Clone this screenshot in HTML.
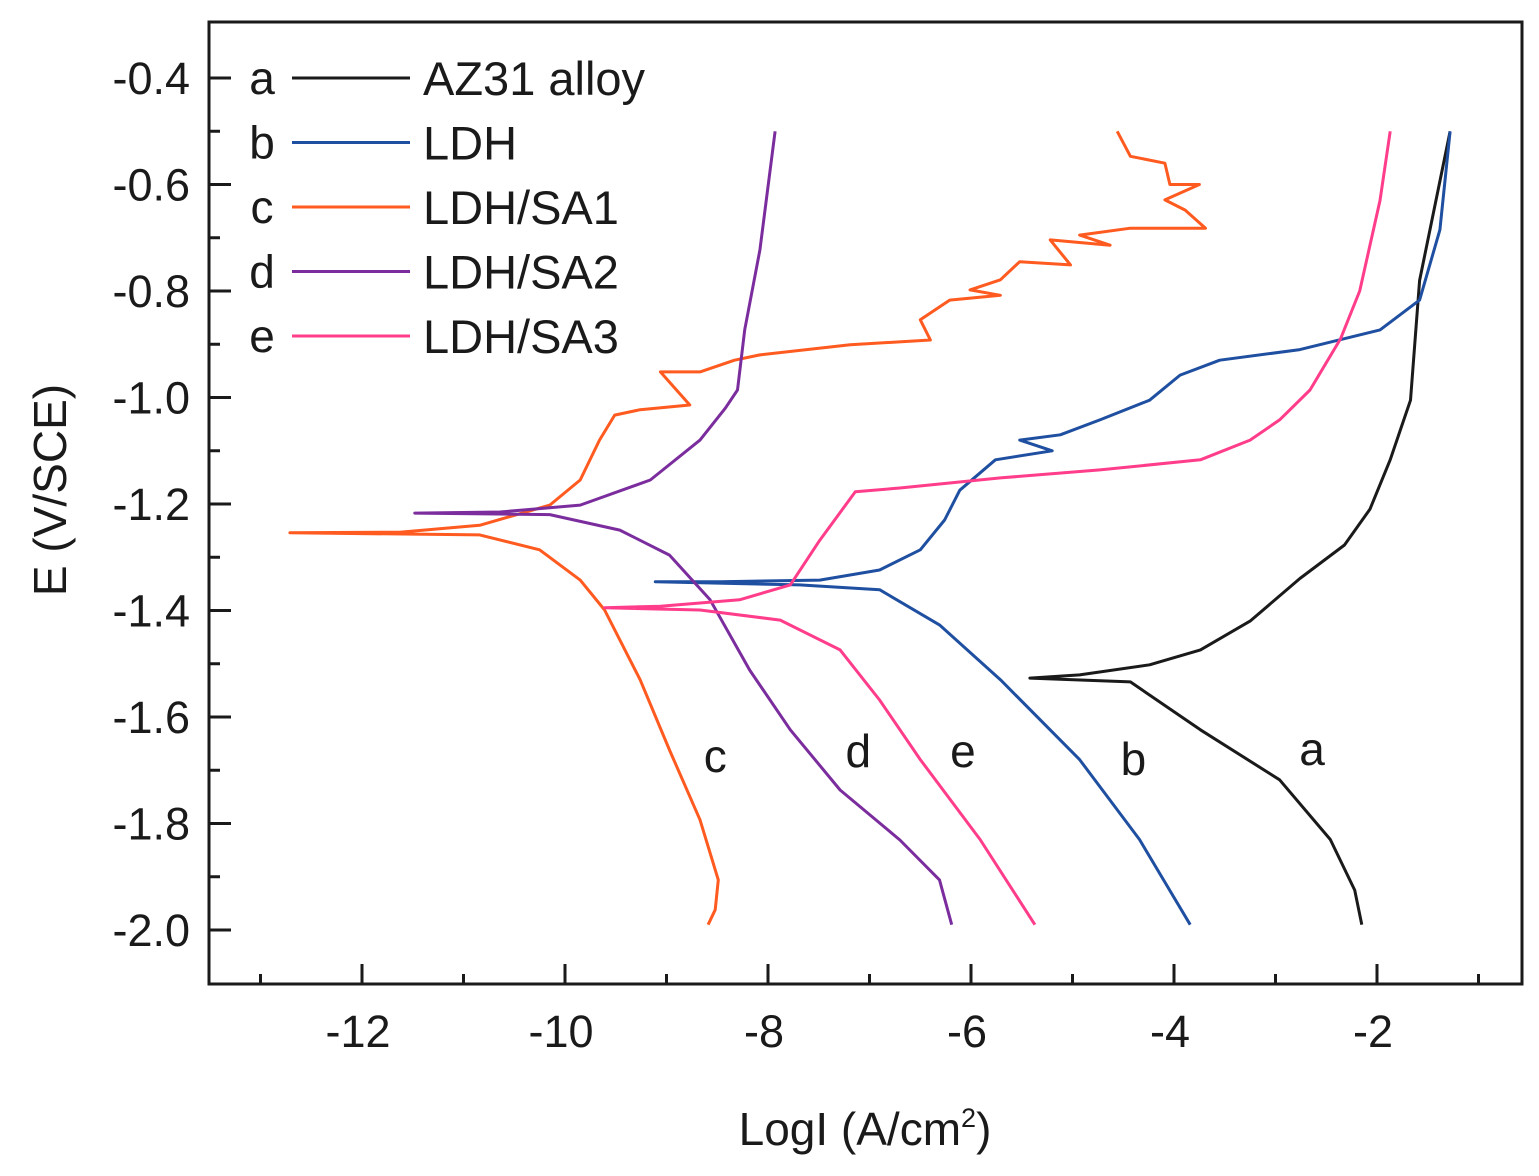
<!DOCTYPE html>
<html><head><meta charset="utf-8">
<style>
html,body{margin:0;padding:0;background:#fff;}
svg{display:block;}
text{font-family:"Liberation Sans",Arial,sans-serif;fill:#1a1a1a;}
</style></head>
<body>
<svg id="chart" width="1539" height="1176" viewBox="0 0 1539 1176">
<rect x="0" y="0" width="1539" height="1176" fill="#fff"/>
<g id="axes"></g>
<g id="curves"></g>
<g id="legend"></g>
<text x="865" y="1145" font-size="46" text-anchor="middle">LogI (A/cm<tspan dy="-18" font-size="27">2</tspan><tspan dy="18">)</tspan></text>
<text transform="translate(66,490) rotate(-90)" font-size="46" text-anchor="middle">E (V/SCE)</text>
</svg>
<script>
const xTicks=[-12,-10,-8,-6,-4,-2];
const xMinor=[-13,-11,-9,-7,-5,-3,-1];
const yTicks=[-0.4,-0.6,-0.8,-1.0,-1.2,-1.4,-1.6,-1.8,-2.0];
const yTickLabels=["-0.4","-0.6","-0.8","-1.0","-1.2","-1.4","-1.6","-1.8","-2.0"];
const yMinor=[-0.5,-0.7,-0.9,-1.1,-1.3,-1.5,-1.7,-1.9];
const seriesNames=["AZ31 alloy","LDH","LDH/SA1","LDH/SA2","LDH/SA3"];
const seriesLetters=["a","b","c","d","e"];
const seriesColors=["#1a1a1a","#1f4fa0","#ff5a1f","#7b2d9e","#ff3d8a"];
const curveA=[[-1.28,-0.5],[-1.58,-0.78],[-1.67,-1.005],[-1.87,-1.117],[-2.07,-1.21],[-2.32,-1.277],[-2.76,-1.34],[-3.25,-1.42],[-3.74,-1.474],[-4.24,-1.502],[-4.93,-1.521],[-5.42,-1.527],[-4.43,-1.534],[-3.74,-1.624],[-2.96,-1.718],[-2.46,-1.83],[-2.22,-1.925],[-2.15,-1.99]];
const curveB=[[-1.28,-0.5],[-1.38,-0.685],[-1.58,-0.817],[-1.97,-0.873],[-2.76,-0.91],[-3.55,-0.93],[-3.94,-0.958],[-4.24,-1.005],[-4.73,-1.042],[-5.12,-1.07],[-5.52,-1.08],[-5.2,-1.1],[-5.76,-1.117],[-6.11,-1.174],[-6.26,-1.23],[-6.5,-1.286],[-6.9,-1.324],[-7.49,-1.343],[-8.47,-1.346],[-9.11,-1.346],[-7.69,-1.352],[-6.9,-1.361],[-6.31,-1.427],[-5.71,-1.53],[-4.93,-1.68],[-4.34,-1.83],[-3.84,-1.99]];
const curveC=[[-4.56,-0.5],[-4.43,-0.547],[-4.09,-0.56],[-4.04,-0.6],[-3.75,-0.6],[-4.09,-0.629],[-3.89,-0.648],[-3.69,-0.682],[-4.43,-0.682],[-4.93,-0.695],[-4.63,-0.714],[-5.22,-0.704],[-5.02,-0.751],[-5.52,-0.745],[-5.71,-0.779],[-6.01,-0.798],[-5.71,-0.808],[-6.21,-0.817],[-6.5,-0.854],[-6.4,-0.892],[-7.19,-0.901],[-8.08,-0.92],[-8.33,-0.93],[-8.67,-0.952],[-9.06,-0.952],[-8.77,-1.014],[-9.26,-1.023],[-9.51,-1.033],[-9.66,-1.08],[-9.85,-1.155],[-10.15,-1.202],[-10.84,-1.24],[-11.63,-1.253],[-12.71,-1.254],[-10.84,-1.258],[-10.25,-1.286],[-9.85,-1.343],[-9.61,-1.399],[-9.26,-1.53],[-8.97,-1.662],[-8.67,-1.793],[-8.49,-1.906],[-8.52,-1.962],[-8.59,-1.99]];
const curveD=[[-7.93,-0.5],[-8.08,-0.723],[-8.23,-0.873],[-8.3,-0.986],[-8.42,-1.02],[-8.67,-1.08],[-9.16,-1.155],[-9.85,-1.202],[-10.64,-1.215],[-11.48,-1.217],[-10.15,-1.22],[-9.46,-1.249],[-8.97,-1.296],[-8.57,-1.38],[-8.18,-1.512],[-7.78,-1.624],[-7.29,-1.737],[-6.7,-1.831],[-6.31,-1.906],[-6.19,-1.99]];
const curveE=[[-1.87,-0.5],[-1.97,-0.63],[-2.17,-0.8],[-2.36,-0.89],[-2.66,-0.986],[-2.96,-1.042],[-3.25,-1.08],[-3.74,-1.117],[-4.73,-1.136],[-5.71,-1.151],[-6.7,-1.17],[-7.14,-1.177],[-7.49,-1.268],[-7.78,-1.352],[-8.28,-1.38],[-9.06,-1.392],[-9.61,-1.395],[-8.67,-1.399],[-7.88,-1.418],[-7.29,-1.474],[-6.9,-1.568],[-6.5,-1.68],[-5.91,-1.83],[-5.37,-1.99]];
const curveLabelPos=[[-2.64,-1.69],[-4.40,-1.709],[-8.52,-1.703],[-7.11,-1.694],[-6.08,-1.694]];

const NS="http://www.w3.org/2000/svg";
const L=209,R=1522,T=22,B=984;
function X(v){return 362+(v+12)*101.5;}
function Y(v){return 78+(-0.4-v)*532.5;}
function mk(tag,attrs,parent){const e=document.createElementNS(NS,tag);for(const k in attrs)e.setAttribute(k,attrs[k]);parent.appendChild(e);return e;}
const axes=document.getElementById('axes');
const frame=mk('rect',{x:L,y:T,width:R-L,height:B-T,fill:'none',stroke:'#1a1a1a','stroke-width':3},axes);


xTicks.forEach(v=>{
  const t=mk('line',{x1:X(v),x2:X(v),y1:B,y2:B-20,stroke:'#1a1a1a','stroke-width':3},axes);
  
  
  const tx=mk('text',{x:X(v)-4,y:1047,'font-size':45,'text-anchor':'middle'},axes);
  tx.textContent=String(v);
  
  
});
xMinor.forEach(v=>{
  const t=mk('line',{x1:X(v),x2:X(v),y1:B,y2:B-10,stroke:'#1a1a1a','stroke-width':3},axes);
  
  
});
yTicks.forEach((v,i)=>{
  const t=mk('line',{x1:L,x2:L+22,y1:Y(v),y2:Y(v),stroke:'#1a1a1a','stroke-width':3},axes);
  
  
  const tx=mk('text',{x:190,y:Y(v)+16,'font-size':45,'text-anchor':'end'},axes);
  tx.textContent=yTickLabels[i];
  
  
});
yMinor.forEach(v=>{
  const t=mk('line',{x1:L,x2:L+11,y1:Y(v),y2:Y(v),stroke:'#1a1a1a','stroke-width':3},axes);
  
  
});
const curves=[curveA,curveB,curveC,curveD,curveE];
const cg=document.getElementById('curves');
curves.forEach((c,i)=>{
  const d=c.map((p,j)=>(j?'L':'M')+X(p[0]).toFixed(1)+','+Y(p[1]).toFixed(1)).join(' ');
  const p=mk('path',{d:d,fill:'none',stroke:seriesColors[i],'stroke-width':3,'stroke-linejoin':'round'},cg);
  
  
  const lb=mk('text',{x:X(curveLabelPos[i][0]),y:Y(curveLabelPos[i][1]),'font-size':46,'text-anchor':'middle'},cg);
  lb.textContent=seriesLetters[i];
  
  
});
const lg=document.getElementById('legend');
seriesNames.forEach((n,i)=>{
  const y=78+i*64.5;
  const g=mk('g',{},lg);
  
  
  const a=mk('text',{x:262,y:y+16,'font-size':46,'text-anchor':'middle'},g);a.textContent=seriesLetters[i];
  mk('line',{x1:292,x2:410,y1:y,y2:y,stroke:seriesColors[i],'stroke-width':3},g);
  const t=mk('text',{x:423,y:y+17,'font-size':47},g);t.textContent=n;
});
</script>
</body></html>
